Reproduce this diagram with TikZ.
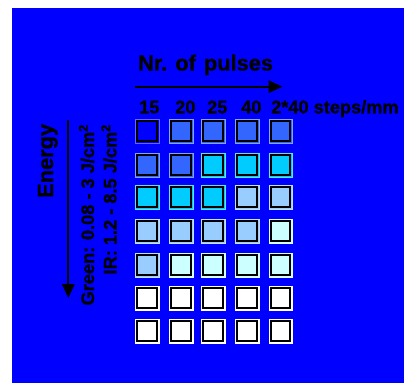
\documentclass[tikz,border=0pt]{standalone}
\usepackage{fontspec}
\setmainfont{Liberation Sans}
\newfontfamily\heavyfont{Liberation Sans Bold}[FakeBold=0.9]
\usetikzlibrary{arrows.meta}
\definecolor{bg}{HTML}{0000FF}
\definecolor{dk}{HTML}{3366FF}
\definecolor{cy}{HTML}{00CCFF}
\definecolor{lb}{HTML}{99CCFF}
\definecolor{pc}{HTML}{CCFFFF}
\definecolor{wh}{HTML}{FFFFFF}
\begin{document}
\begin{tikzpicture}[x=1pt,y=-1pt,
  lbl/.style={font=\heavyfont\fontsize{18.2}{20}\selectfont, inner sep=0pt, text=black},
  big/.style={font=\heavyfont\fontsize{21.8}{24}\selectfont, inner sep=0pt, text=black},
  axis/.style={line width=2pt, -{Triangle[length=14pt,width=12.5pt]}},
  cellback/.style={draw=#1!60!white, line width=1pt, fill=#1, minimum size=23.5pt,
    inner sep=0pt, anchor=north west},
  cellfront/.style={draw=black, line width=2pt, fill=#1, minimum size=19.5pt,
    inner sep=0pt, anchor=north west}]
% page and backdrop
\useasboundingbox (0,0) rectangle (404,383);
\fill[white] (0,0) rectangle (404,383);
\fill[bg] (12,8) rectangle (404,383);

% horizontal axis: number of pulses
\node[big, anchor=base west] (title) at (138,70.5) {Nr. of\hspace{2pt} pulses};
\coordinate (hs) at (135,86.7);
\coordinate (he) at (282.5,86.7);
\draw[axis] (hs) -- (he);
\node[lbl, anchor=base west] (p15) at (139,113.3) {15};
\node[lbl, anchor=base west] (p20) at (175,113.3) {20};
\node[lbl, anchor=base west] (p25) at (207,113.3) {25};
\node[lbl, anchor=base west] (p40) at (241,113.3) {40};
\node[lbl, anchor=base west] (p80) at (271,113.3) {2*40 steps/mm};

% vertical axis: energy
\node[big, rotate=90, anchor=base west] (energy) at (53,198) {Energy};
\coordinate (vs) at (68.3,120);
\coordinate (ve) at (68.3,298);
\draw[axis] (vs) -- (ve);
\node[lbl, rotate=90, anchor=base east] (green) at (94,124) {Green: 0.08 - 3 J/cm\textsuperscript{2}};
\node[lbl, rotate=90, anchor=base east] (ir) at (116.5,124) {IR: 1.2 - 8.5 J/cm\textsuperscript{2}};

% grid of test spots
\foreach \r/\y/\cols in {1/120/{bg,dk,dk,dk,dk},
                          2/154/{dk,dk,cy,cy,cy},
                          3/186/{cy,cy,cy,lb,lb},
                          4/220/{lb,lb,lb,lb,pc},
                          5/254/{lb,pc,pc,pc,pc},
                          6/287/{wh,wh,wh,wh,wh},
                          7/320/{wh,wh,wh,wh,wh}} {
  \foreach \c/\x [count=\i] in {1/136,2/170,3/202,4/236,5/269.5} {
    \foreach \col [count=\j] in \cols {
      \ifnum\i=\j
        \node[cellback=\col] (b-\r-\c) at (\x-1,\y-1) {};
        \node[cellfront=\col] (c-\r-\c) at (\x,\y) {};
      \fi
    }
  }
}
\end{tikzpicture}
\end{document}
